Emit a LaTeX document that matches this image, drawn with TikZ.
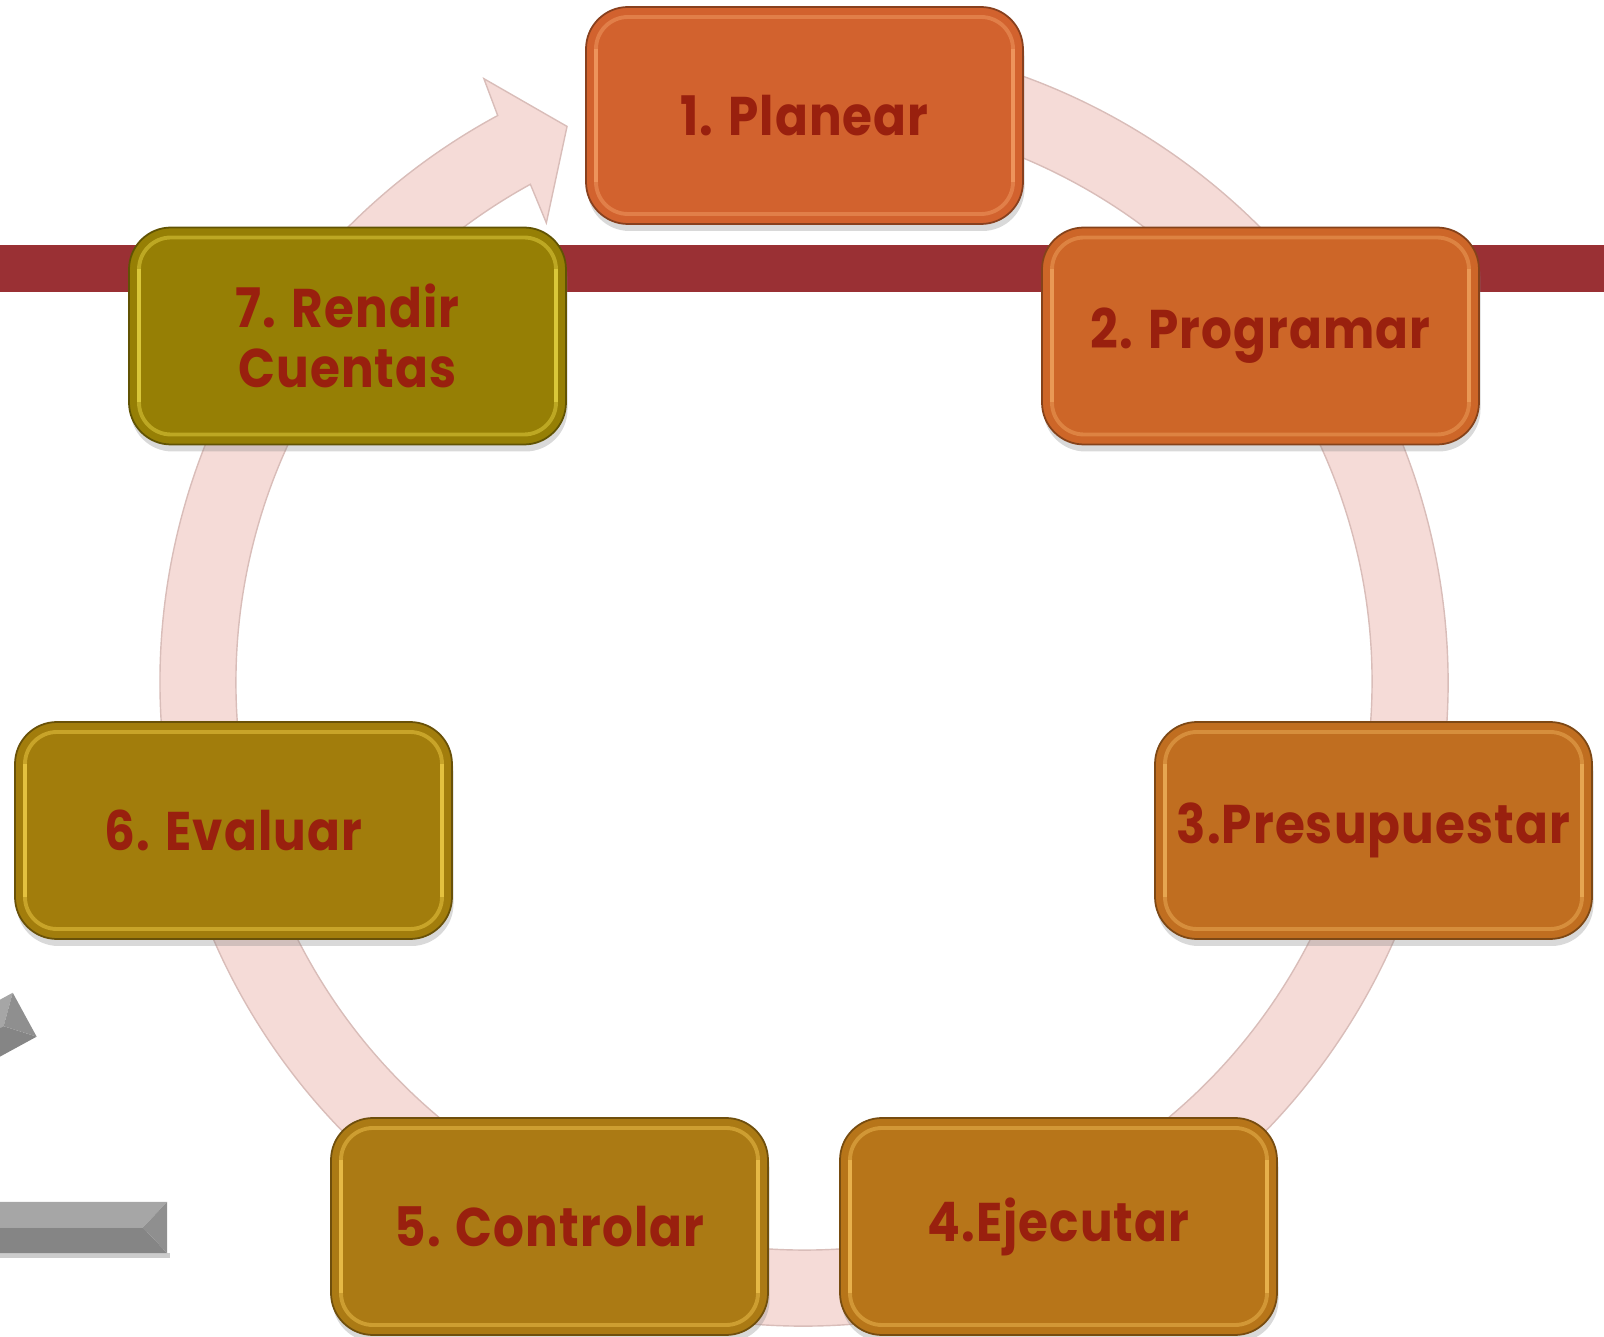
\documentclass[tikz,border=0pt]{standalone}
\usepackage{fontspec}
\setmainfont{Poppins}[FakeStretch=0.89, LetterSpace=2]
\usetikzlibrary{shadows}
\definecolor{txt}{HTML}{99200E}
\definecolor{redbar}{HTML}{9A3034}
\definecolor{ringc}{HTML}{F5DBD7}
\definecolor{ringd}{HTML}{D9BDB9}
\definecolor{c1}{HTML}{D2622E}
\definecolor{c2}{HTML}{CD6628}
\definecolor{c3}{HTML}{C06E20}
\definecolor{c4}{HTML}{B77519}
\definecolor{c5}{HTML}{AB7A14}
\definecolor{c6}{HTML}{A27D0C}
\definecolor{c7}{HTML}{967F05}
\definecolor{h1}{HTML}{F5A36A}
\definecolor{h2}{HTML}{F2A862}
\definecolor{h3}{HTML}{F2B660}
\definecolor{h4}{HTML}{F5C25A}
\definecolor{h5}{HTML}{F7CC55}
\definecolor{h6}{HTML}{F7D54E}
\definecolor{h7}{HTML}{EDDC48}
\tikzset{
  stage/.style 2 args={
    draw=#1!65!black, fill=#1, line width=0.5pt,
    rounded corners=0.42cm,
    minimum width=4.37cm, minimum height=2.17cm,
    align=center, text=txt,
    font=\bfseries\fontsize{15.5}{17}\selectfont,
    drop shadow={shadow xshift=0.015cm, shadow yshift=-0.07cm, opacity=0.3},
    path picture={
      \draw[#2, line width=1.1pt, opacity=0.45, rounded corners=0.32cm]
        ([shift={(0.1,-0.1)}]path picture bounding box.north west)
        rectangle ([shift={(-0.1,0.1)}]path picture bounding box.south east);
      \draw[#2, line width=1.3pt, opacity=0.6]
        ([shift={(0.1,-0.42)}]path picture bounding box.north west)
        -- ([shift={(0.1,0.42)}]path picture bounding box.south west);
      \draw[#2, line width=1.3pt, opacity=0.6]
        ([shift={(-0.1,-0.42)}]path picture bounding box.north east)
        -- ([shift={(-0.1,0.42)}]path picture bounding box.south east);
    }
  },
  ring/.style={fill=ringc, draw=ringd, line width=0.4pt},
  bartop/.style={fill=black!35},
  barbot/.style={fill=black!48},
  barend/.style={fill=black!44}
}

\begin{document}
\begin{tikzpicture}
  \useasboundingbox (0,0) rectangle (16.04,-13.37);

  % band behind the cycle
  \fill[redbar] (0,-2.45) rectangle (16.04,-2.92);

  % gray bars cut at the left edge
  \begin{scope}[shift={(0.247,-10.147)}, rotate=28.6]
    \fill[bartop] (-1.5,0.25) -- (0,0.25) -- (-0.24,0) -- (-1.5,0) -- cycle;
    \fill[barbot] (-1.5,0) -- (-0.24,0) -- (0,-0.25) -- (-1.5,-0.25) -- cycle;
    \fill[barend] (-0.24,0) -- (0,0.25) -- (0,-0.25) -- cycle;
  \end{scope}
  \begin{scope}[shift={(1.67,-12.275)}]
    \fill[black!20] (-1.67,-0.255) rectangle (0.03,-0.3);
    \fill[bartop] (-1.67,0.255) -- (0,0.255) -- (-0.24,0) -- (-1.67,0) -- cycle;
    \fill[barbot] (-1.67,0) -- (-0.24,0) -- (0,-0.255) -- (-1.67,-0.255) -- cycle;
    \fill[barend] (-0.24,0) -- (0,0.255) -- (0,-0.255) -- cycle;
  \end{scope}

  % circular arrow
  \begin{scope}[shift={(8.04,-6.82)}]
    \draw[ring] (100:6.44) arc[start angle=100, end angle=-241.6, radius=6.44]
      -- (-242.05:6.83) -- (-246.9:6.04) -- (-240.7:5.265)
      -- (-241.2:5.68) arc[start angle=-241.2, end angle=100, radius=5.68] -- cycle;
  \end{scope}

  % stages
  \node[stage={c1}{h1}] (plan) at (8.045,-1.155) {1. Planear};
  \node[stage={c2}{h2}] (prog) at (12.605,-3.36) {2. Programar};
  \node[stage={c3}{h3}] (pres) at (13.735,-8.305) {3.Presupuestar};
  \node[stage={c4}{h4}] (ejec) at (10.585,-12.265) {4.Ejecutar};
  \node[stage={c5}{h5}] (cont) at (5.495,-12.265) {5. Controlar};
  \node[stage={c6}{h6}] (eval) at (2.335,-8.305) {6. Evaluar};
  \node[stage={c7}{h7}] (rend) at (3.475,-3.36) {7. Rendir\\Cuentas};
\end{tikzpicture}
\end{document}
